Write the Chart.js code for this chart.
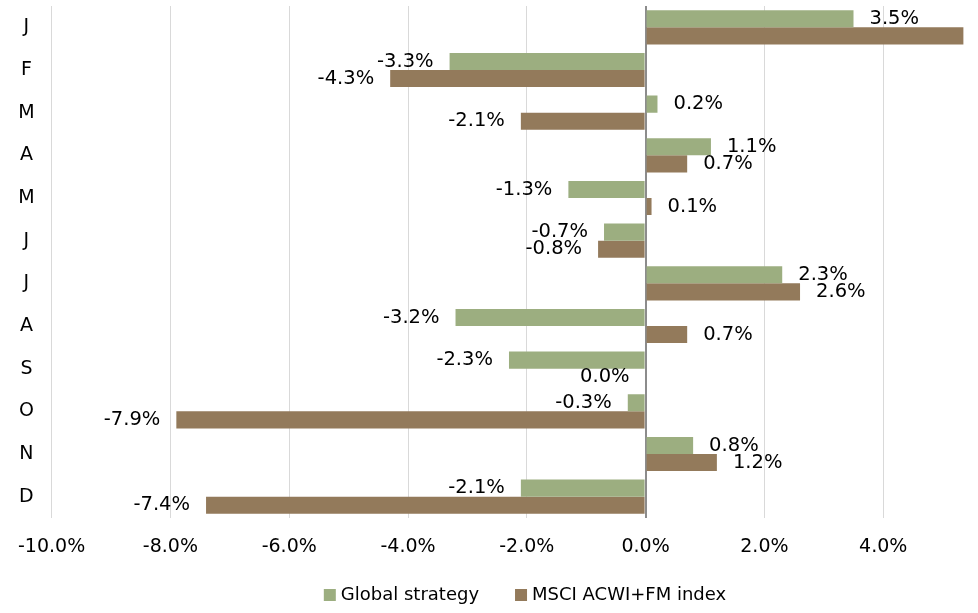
<!DOCTYPE html>
<html>
<head>
<meta charset="utf-8">
<script src="https://cdn.jsdelivr.net/npm/chart.js@4.4.1/dist/chart.umd.min.js"></script>
<style>
    html, body { margin: 0; padding: 0; background: #fff; overflow: hidden; }
    #wrap { width: 1050px; height: 613px; }
</style>
</head>
<body>
<div id="wrap"><canvas id="returns-chart" width="1050" height="613"></canvas></div>
<script>
const months = ['J', 'F', 'M', 'A', 'M', 'J', 'J', 'A', 'S', 'O', 'N', 'D'];
const globalStrategy = [3.5, -3.3, 0.2, 1.1, -1.3, -0.7, 2.3, -3.2, -2.3, -0.3, 0.8, -2.1];
const msciIndex = [5.35, -4.3, -2.1, 0.7, 0.1, -0.8, 2.6, 0.7, 0.0, -7.9, 1.2, -7.4];
const xTicks = [-10, -8, -6, -4, -2, 0, 2, 4, 6];

const FONT = 'DejaVu Sans';

// value labels at the end of each bar, negative/zero values go on the left
const barLabels = {
    id: 'barLabels',
    afterDatasetsDraw(chart) {
        const ctx = chart.ctx;
        ctx.save();
        ctx.font = '19.5px "' + FONT + '"';
        ctx.fillStyle = '#000';
        ctx.textBaseline = 'middle';
        chart.data.datasets.forEach((ds, i) => {
            chart.getDatasetMeta(i).data.forEach((bar, j) => {
                const v = ds.data[j];
                const text = v.toFixed(1) + '%';
                if (v > 0) {
                    ctx.textAlign = 'left';
                    ctx.fillText(text, bar.x + 16, bar.y);
                } else {
                    ctx.textAlign = 'right';
                    ctx.fillText(text, bar.x - 16, bar.y);
                }
            });
        });
        ctx.restore();
    }
};

// simple legend under the chart, Excel style spacing
const bottomLegend = {
    id: 'bottomLegend',
    afterDraw(chart) {
        const ctx = chart.ctx;
        const box = 12, gap = 5, spacing = 36;
        ctx.save();
        ctx.font = '18px "' + FONT + '"';
        ctx.textBaseline = 'middle';
        ctx.textAlign = 'left';
        const items = chart.data.datasets.map(ds => ({
            text: ds.label,
            color: ds.backgroundColor,
            w: box + gap + ctx.measureText(ds.label).width
        }));
        const total = items.reduce((acc, it) => acc + it.w, 0) + spacing * (items.length - 1);
        let x = chart.width / 2 - total / 2;
        const y = 595;
        items.forEach(it => {
            ctx.fillStyle = it.color;
            ctx.fillRect(x, y - box / 2, box, box);
            ctx.fillStyle = '#000';
            ctx.fillText(it.text, x + box + gap, y);
            x += it.w + spacing;
        });
        ctx.restore();
    }
};

new Chart(document.getElementById('returns-chart'), {
    type: 'bar',
    data: {
        labels: months,
        datasets: [
            {
                label: 'Global strategy',
                data: globalStrategy,
                backgroundColor: '#9CAE80',
                categoryPercentage: 0.8,
                barPercentage: 1.0
            },
            {
                label: 'MSCI ACWI+FM index',
                data: msciIndex,
                backgroundColor: '#937A5B',
                categoryPercentage: 0.8,
                barPercentage: 1.0
            }
        ]
    },
    options: {
        indexAxis: 'y',
        responsive: false,
        animation: false,
        layout: {padding: {top: 6, right: 48, bottom: 47, left: 0}},
        scales: {
            x: {
                min: -10,
                max: 6,
                afterBuildTicks: scale => {
                    scale.ticks = xTicks.map(v => ({value: v}));
                },
                afterFit: scale => {
                    scale.height = 48;
                },
                ticks: {
                    color: '#000',
                    font: {family: FONT, size: 19},
                    padding: 18,
                    maxRotation: 0,
                    callback: v => v.toFixed(1) + '%'
                },
                grid: {
                    color: c => c.tick && c.tick.value === 0 ? '#8c8c8c' : '#d9d9d9',
                    lineWidth: c => c.tick && c.tick.value === 0 ? 2 : 1,
                    drawTicks: false
                },
                border: {display: false}
            },
            y: {
                afterFit: scale => {
                    scale.width = 50;
                    scale.paddingTop = 0;
                    scale.paddingBottom = 0;
                },
                ticks: {
                    color: '#000',
                    font: {family: FONT, size: 19},
                    crossAlign: 'center',
                    padding: 17
                },
                grid: {display: false, drawTicks: false},
                border: {display: false}
            }
        },
        plugins: {
            legend: {display: false},
            tooltip: {enabled: false}
        }
    },
    plugins: [barLabels, bottomLegend]
});
</script>
</body>
</html>
